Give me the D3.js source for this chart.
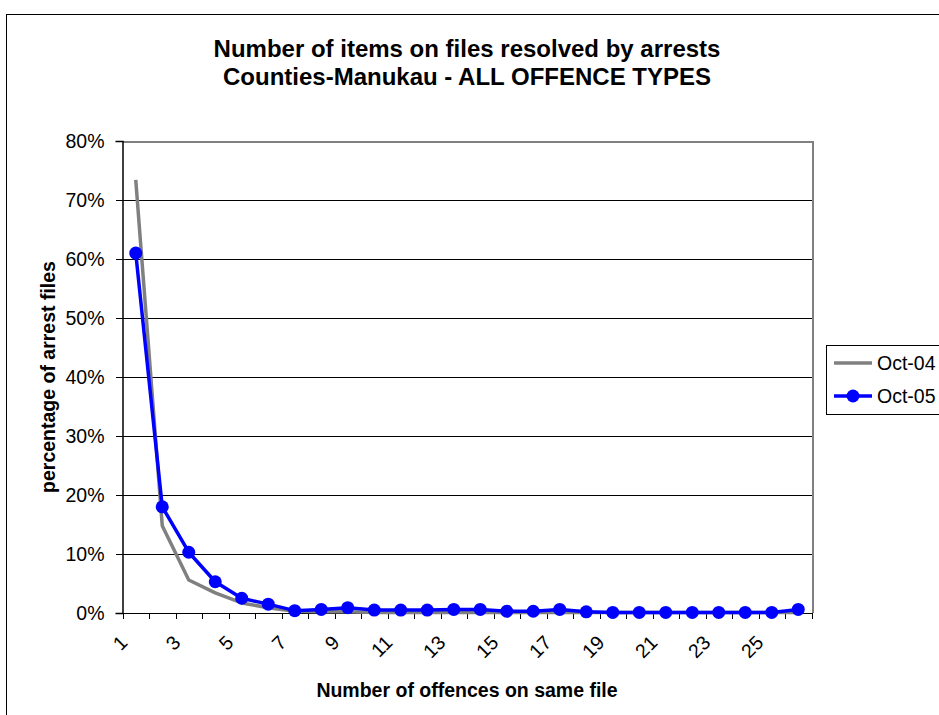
<!DOCTYPE html>
<html>
<head>
<meta charset="utf-8">
<script src="https://cdn.jsdelivr.net/npm/d3@7/dist/d3.min.js"></script>
<style>
  html, body { margin: 0; padding: 0; background: #fff; }
  svg { display: block; font-family: "Liberation Sans", Arial, sans-serif; }
</style>
</head>
<body>
<svg id="chart" width="939" height="715"></svg>
<script>
// Number of offences recorded on a single arrest file (1..26)
const categories = d3.range(1, 27);
// Share of arrest files (%) for each count
const oct04 = [73.4, 14.8, 5.6, 3.4, 1.7, 0.9, 0.3, 0.2, 0.2, 0.1, 0.1, 0.1, 0.1,
               0.1, 0.1, 0.1, 0.1, 0.1, 0.1, 0.1, 0.1, 0.1, 0.1, 0.1, 0.1, 0.1];
const oct05 = [61.0, 18.0, 10.3, 5.3, 2.5, 1.5, 0.4, 0.6, 0.9, 0.5, 0.5, 0.5, 0.6,
               0.6, 0.3, 0.3, 0.6, 0.2, 0.1, 0.1, 0.1, 0.1, 0.1, 0.1, 0.1, 0.6];
const yTicks = [0, 10, 20, 30, 40, 50, 60, 70, 80];
const xLabels = categories.filter(d => d % 2 === 1);
const seriesNames = ["Oct-04", "Oct-05"];

const svg = d3.select("#chart");
const plot = { left: 122.5, right: 811.5, top: 141, bottom: 613 };

// outer chart frame
svg.append("rect")
  .attr("x", 6.5).attr("y", 14.5)
  .attr("width", 1100).attr("height", 800)
  .attr("fill", "#fff").attr("stroke", "#000").attr("stroke-width", 1);

const x = d3.scaleBand().domain(categories).range([plot.left, plot.right]).padding(0);
const y = d3.scaleLinear().domain([0, 80]).range([plot.bottom, plot.top]);
const cx = d => x(d) + x.bandwidth() / 2;
const crisp = v => Math.round(v) + 0.5;

// horizontal gridlines
svg.append("g")
  .selectAll("line")
  .data(yTicks.filter(t => t > 0 && t < 80))
  .join("line")
  .attr("x1", plot.left).attr("x2", plot.right)
  .attr("y1", d => crisp(y(d))).attr("y2", d => crisp(y(d)))
  .attr("stroke", "#000").attr("stroke-width", 1)
  .attr("shape-rendering", "crispEdges");

// plot area border (top and right in grey)
svg.append("path")
  .attr("d", `M${plot.left},${crisp(plot.top)}H${crisp(plot.right)}V${plot.bottom}`)
  .attr("fill", "none").attr("stroke", "#808080").attr("stroke-width", 2)
  .attr("shape-rendering", "crispEdges");

// y axis
const yAxis = d3.axisLeft(y).tickValues(yTicks).tickFormat(d => d + "%")
  .tickSize(7).tickPadding(11);
const gy = svg.append("g").attr("transform", `translate(${plot.left},0)`).call(yAxis);
gy.select(".domain").attr("stroke", "#000").attr("stroke-width", 1.5);
gy.selectAll(".tick line").attr("stroke", "#000").attr("stroke-width", 1)
  .attr("shape-rendering", "crispEdges");
gy.selectAll(".tick text").attr("font-size", 19.5).attr("fill", "#000")
  .attr("font-family", "Liberation Sans, Arial, sans-serif");

// x axis: ticks at category boundaries
const xb = d3.scaleLinear().domain([0, categories.length]).range([plot.left, plot.right]);
svg.append("line")
  .attr("x1", plot.left - 7).attr("x2", plot.right)
  .attr("y1", crisp(plot.bottom)).attr("y2", crisp(plot.bottom))
  .attr("stroke", "#000").attr("stroke-width", 1.5)
  .attr("shape-rendering", "crispEdges");
svg.append("g")
  .selectAll("line")
  .data(d3.range(0, categories.length + 1))
  .join("line")
  .attr("x1", d => crisp(xb(d))).attr("x2", d => crisp(xb(d)))
  .attr("y1", plot.bottom).attr("y2", plot.bottom + 6)
  .attr("stroke", "#000").attr("stroke-width", 1)
  .attr("shape-rendering", "crispEdges");

svg.append("g")
  .selectAll("text")
  .data(xLabels)
  .join("text")
  .attr("transform", d => `translate(${cx(d) - 12},${plot.bottom + 26}) rotate(-45)`)
  .attr("text-anchor", "end")
  .attr("dy", "0.35em")
  .attr("font-size", 19.5)
  .attr("fill", "#000")
  .text(d => d);

// series lines
const line = d3.line().x((d, i) => cx(categories[i])).y(d => y(d));
svg.append("path").datum(oct04)
  .attr("d", line).attr("fill", "none")
  .attr("stroke", "#808080").attr("stroke-width", 3.5).attr("stroke-linejoin", "round");
svg.append("path").datum(oct05)
  .attr("d", line).attr("fill", "none")
  .attr("stroke", "#0000ff").attr("stroke-width", 3.5).attr("stroke-linejoin", "round");
svg.append("g")
  .selectAll("circle")
  .data(oct05)
  .join("circle")
  .attr("cx", (d, i) => cx(categories[i]))
  .attr("cy", d => y(d))
  .attr("r", 6.5)
  .attr("fill", "#0000ff");

// titles
const midX = (plot.left + plot.right) / 2;
svg.append("text").attr("x", midX).attr("y", 57)
  .attr("text-anchor", "middle").attr("font-size", 24).attr("font-weight", "bold")
  .text("Number of items on files resolved by arrests");
svg.append("text").attr("x", midX).attr("y", 85)
  .attr("text-anchor", "middle").attr("font-size", 24).attr("font-weight", "bold")
  .text("Counties-Manukau - ALL OFFENCE TYPES");
svg.append("text").attr("x", midX).attr("y", 697)
  .attr("text-anchor", "middle").attr("font-size", 19.5).attr("font-weight", "bold")
  .text("Number of offences on same file");
svg.append("text")
  .attr("transform", `translate(48,${(plot.top + plot.bottom) / 2}) rotate(-90)`)
  .attr("text-anchor", "middle").attr("dy", "0.35em")
  .attr("font-size", 19.5).attr("font-weight", "bold")
  .text("percentage of arrest files");

// legend
const lg = svg.append("g").attr("transform", "translate(826,345)");
lg.append("rect").attr("x", 0.5).attr("y", 0.5).attr("width", 200).attr("height", 69)
  .attr("fill", "#fff").attr("stroke", "#000").attr("stroke-width", 1);
seriesNames.forEach((name, i) => {
  const yy = 18 + i * 33;
  const col = i === 0 ? "#808080" : "#0000ff";
  lg.append("line").attr("x1", 8).attr("x2", 46).attr("y1", yy).attr("y2", yy)
    .attr("stroke", col).attr("stroke-width", 3.5);
  if (i === 1) lg.append("circle").attr("cx", 27).attr("cy", yy).attr("r", 6.5).attr("fill", col);
  lg.append("text").attr("x", 51).attr("y", yy).attr("dy", "0.35em")
    .attr("font-size", 19.5).text(name);
});
</script>
</body>
</html>
